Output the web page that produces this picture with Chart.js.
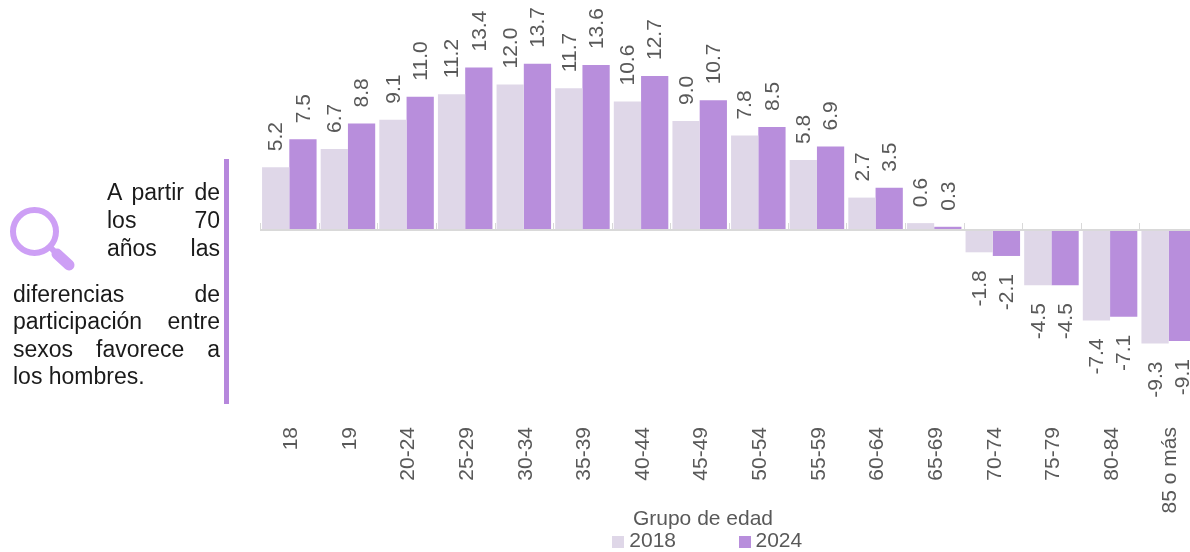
<!DOCTYPE html>
<html><head><meta charset="utf-8">
<script src="https://cdn.jsdelivr.net/npm/chart.js@4"></script>
<style>
html,body{margin:0;padding:0;width:1190px;height:552px;overflow:hidden;background:#fff;font-family:"Liberation Sans",Arial,sans-serif}
#wrap{position:absolute;left:0;top:0;width:1205px;height:562px}
.ln{position:absolute;left:13px;width:207px;font-size:23px;line-height:28px;color:#1a1a1a;text-align:justify;text-align-last:justify;white-space:nowrap}
.ln.s{left:107px;width:113px}
.ln.e{text-align-last:left}
#bar{position:absolute;left:224px;top:159px;width:5px;height:245px;background:#b687dc}
#ico{position:absolute;left:8px;top:205px}
#xt{position:absolute;left:603px;width:200px;top:506px;text-align:center;font-size:21px;line-height:24px;color:#595959}
</style></head><body>
<div id="wrap"><canvas id="c" width="1205" height="562"></canvas></div>
<svg id="ico" width="70" height="70" viewBox="0 0 70 70"><circle cx="26.500" cy="26.500" r="21.500" fill="none" stroke="#cd9ff5" stroke-width="6"/><line x1="43" y1="43" x2="50" y2="50" stroke="#cd9ff5" stroke-width="6"/><line x1="49" y1="49" x2="61" y2="60" stroke="#cd9ff5" stroke-width="11" stroke-linecap="round"/></svg>
<div id="bar"></div>
<div class="ln s" style="top:178px">A partir de</div>
<div class="ln s" style="top:206px">los 70</div>
<div class="ln s" style="top:234px">años las</div>
<div class="ln" style="top:280px">diferencias de</div>
<div class="ln" style="top:307px">participación entre</div>
<div class="ln" style="top:335px">sexos favorece a</div>
<div class="ln e" style="top:362px">los hombres.</div>
<div id="xt">Grupo de edad</div>
<script>
const categories=["18","19","20-24","25-29","30-34","35-39","40-44","45-49","50-54","55-59","60-64","65-69","70-74","75-79","80-84","85 o más"];
const values2018=[5.2,6.7,9.1,11.2,12.0,11.7,10.6,9.0,7.8,5.8,2.7,0.6,-1.8,-4.5,-7.4,-9.3];
const values2024=[7.5,8.8,11.0,13.4,13.7,13.6,12.7,10.7,8.5,6.9,3.5,0.3,-2.1,-4.5,-7.1,-9.1];
const GRAY="#595959",LINE="#d9d9d9";
const FONT='"Liberation Sans",Arial,sans-serif';
const LEGEND_GAP=68;
const COLORS=['#dfd7e8','#b88edc'];
function swatch(color){const c=document.createElement('canvas');c.width=12;c.height=12;const g=c.getContext('2d');g.fillStyle=color;g.fillRect(0,0,12,12);return c;}
const valueLabels={id:'valueLabels',
 beforeDraw(chart){chart.scales.x.bottom=chart.height;},
 afterDatasetsDraw(chart){
  const ctx=chart.ctx;ctx.save();
  const x=chart.scales.x,y=chart.scales.y,zero=Math.round(y.getPixelForValue(0));
  ctx.fillStyle=LINE;ctx.fillRect(x.left,zero-1,x.right-x.left,2);
  for(let i=0;i<=categories.length;i++){
    const p=Math.round(x.getPixelForValue(i-0.5));ctx.fillRect(p,zero-7,1,7);
  }
  ctx.fillStyle=GRAY;ctx.font='21px '+FONT;ctx.textBaseline='middle';
  chart.data.datasets.forEach((ds,i)=>{chart.getDatasetMeta(i).data.forEach((el,j)=>{
    const v=ds.data[j];ctx.save();ctx.translate(el.x,v>=0?el.y-16:el.y+18);ctx.rotate(-Math.PI/2);
    ctx.textAlign=v>=0?'left':'right';ctx.fillText(v.toFixed(1),0,1);ctx.restore();});});
  ctx.restore();}};
new Chart(document.getElementById('c'),{type:'bar',
 data:{labels:categories,datasets:[
  {label:'2018',data:values2018,backgroundColor:COLORS[0]},
  {label:'2024',data:values2024,backgroundColor:COLORS[1]}]},
 plugins:[valueLabels],
 options:{responsive:false,animation:false,
  layout:{padding:{left:222,right:7,top:0,bottom:0}},
  datasets:{bar:{categoryPercentage:0.93,barPercentage:1}},
  plugins:{tooltip:{enabled:false},
   legend:{position:'bottom',
    labels:{color:GRAY,font:{family:FONT,size:21},usePointStyle:true,pointStyleWidth:1,boxHeight:12,padding:LEGEND_GAP,
      generateLabels(chart){return Chart.defaults.plugins.legend.labels.generateLabels(chart).map((l,i)=>({...l,pointStyle:swatch(COLORS[i])}));}}}},
  scales:{
   x:{border:{display:false},
      grid:{display:false},
      afterFit(s){s.height=52;},
      ticks:{autoSkip:false,minRotation:90,maxRotation:90,padding:8,labelOffset:2,color:GRAY,font:{family:FONT,size:21}}},
   y:{display:true,min:-14.85,max:18.95,afterFit(s){s.width=38;},grid:{display:false},border:{display:false},ticks:{display:false}}
  }}});
</script></body></html>
